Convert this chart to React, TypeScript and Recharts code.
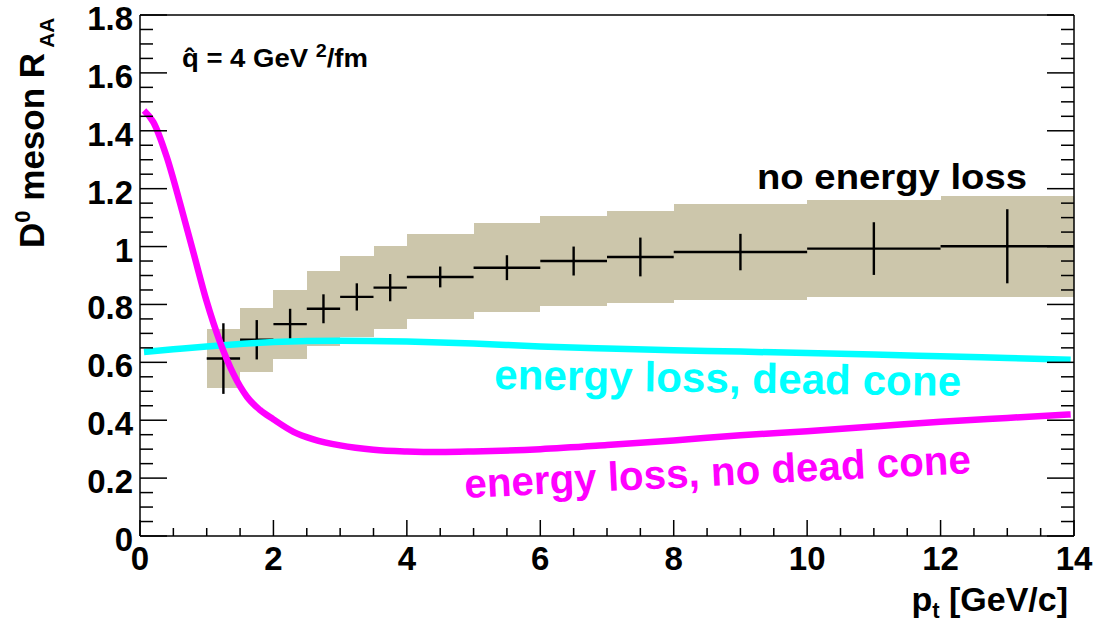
import React from 'react';
import { ComposedChart, Line, Scatter, ErrorBar, XAxis, YAxis, ReferenceArea } from 'recharts';

const W = 1098;
const H = 624;
const FONT = '"Liberation Sans", Arial, Helvetica, sans-serif';

// D0 RAA measurement, pt bins [GeV/c]
const binLow = [1, 1.5, 2, 2.5, 3, 3.5, 4, 5, 6, 7, 8, 10, 12];
const binHigh = [1.5, 2, 2.5, 3, 3.5, 4, 5, 6, 7, 8, 10, 12, 14];
const raa = [0.613, 0.678, 0.732, 0.785, 0.826, 0.858, 0.895, 0.927, 0.95, 0.964, 0.981, 0.993, 1.001];
const statErr = [0.122, 0.068, 0.053, 0.05, 0.047, 0.047, 0.036, 0.043, 0.05, 0.067, 0.063, 0.091, 0.128];
const sysErr = [0.101, 0.111, 0.119, 0.13, 0.14, 0.143, 0.147, 0.153, 0.157, 0.16, 0.165, 0.169, 0.174];

// energy loss, no dead cone (magenta)
const noDcPt = [0.06, 0.2, 0.4, 0.6, 0.8, 1.0, 1.2, 1.4, 1.6, 1.8, 2.0, 2.3, 2.6, 3.0, 3.5, 4.0, 4.5, 5.0, 6.0, 7.0, 8.0, 9.0, 10.0, 11.0, 12.0, 13.0, 13.95];
const noDcRaa = [1.47, 1.43, 1.31, 1.15, 0.98, 0.81, 0.67, 0.56, 0.482, 0.435, 0.403, 0.36, 0.334, 0.313, 0.298, 0.292, 0.29, 0.292, 0.3, 0.314, 0.33, 0.348, 0.362, 0.378, 0.395, 0.408, 0.42];

// energy loss, dead cone (cyan)
const dcPt = [0.06, 0.5, 1.0, 1.5, 2.0, 3.0, 4.0, 5.0, 6.0, 7.0, 8.0, 9.0, 10.0, 11.0, 12.0, 13.0, 13.95];
const dcRaa = [0.636, 0.645, 0.655, 0.663, 0.67, 0.675, 0.672, 0.665, 0.655, 0.648, 0.642, 0.637, 0.632, 0.627, 0.621, 0.615, 0.609];

const xMajor = [0, 2, 4, 6, 8, 10, 12, 14];
const yMajor = [0, 0.2, 0.4, 0.6, 0.8, 1, 1.2, 1.4, 1.6, 1.8];
const xTicks = Array.from({ length: 29 }, (_, i) => i * 0.5);
const yTicks = Array.from({ length: 37 }, (_, i) => +(i * 0.05).toFixed(2));

const points = binLow.map((lo, i) => ({
  x: (lo + binHigh[i]) / 2,
  y: raa[i],
  ex: (binHigh[i] - lo) / 2,
  ey: statErr[i],
}));
const noDcData = noDcPt.map((x, i) => ({ x, y: noDcRaa[i] }));
const dcData = dcPt.map((x, i) => ({ x, y: dcRaa[i] }));

const isX = (v: number) => xMajor.some((m) => Math.abs(m - v) < 1e-6);
const isY = (v: number) => yMajor.some((m) => Math.abs(m - v) < 1e-6);

const lbl = { fontFamily: FONT, fontWeight: 'bold' as const, fill: '#000' };

function BottomTick({ x, y, payload }: any) {
  const major = isX(payload.value);
  return (
    <g>
      <line x1={x} x2={x} y1={y} y2={y - (major ? 16 : 8)} stroke="#000" strokeWidth={1.5} />
      {major && (
        <text x={x} y={y + 34} textAnchor="middle" fontSize={33} {...lbl}>
          {payload.value}
        </text>
      )}
    </g>
  );
}

function TopTick({ x, y, payload }: any) {
  const major = isX(payload.value);
  return <line x1={x} x2={x} y1={y} y2={y + (major ? 16 : 8)} stroke="#000" strokeWidth={1.5} />;
}

function LeftTick({ x, y, payload }: any) {
  const major = isY(payload.value);
  return (
    <g>
      <line x1={x} x2={x + (major ? 27 : 13)} y1={y} y2={y} stroke="#000" strokeWidth={1.5} />
      {major && (
        <text x={x - 7} y={y + 15} textAnchor="end" fontSize={33} {...lbl}>
          {payload.value}
        </text>
      )}
    </g>
  );
}

function RightTick({ x, y, payload }: any) {
  const major = isY(payload.value);
  return <line x1={x} x2={x - (major ? 27 : 13)} y1={y} y2={y} stroke="#000" strokeWidth={1.5} />;
}

const frame = { stroke: '#000', strokeWidth: 1.5 };

export default function App() {
  return (
    <div style={{ position: 'absolute', left: 0, top: 0, width: W, height: H, background: '#fff' }}>
      <ComposedChart width={W} height={H} margin={{ top: 0, right: 0, bottom: 0, left: 0 }}>
        <XAxis
          xAxisId="b"
          dataKey="x"
          type="number"
          domain={[0, 14]}
          ticks={xTicks}
          interval={0}
          allowDataOverflow
          height={88}
          tickSize={0}
          tickMargin={0}
          tickLine={false}
          axisLine={frame}
          tick={<BottomTick />}
        />
        <XAxis
          xAxisId="t"
          orientation="top"
          type="number"
          domain={[0, 14]}
          ticks={xTicks}
          interval={0}
          allowDataOverflow
          height={15}
          tickSize={0}
          tickMargin={0}
          tickLine={false}
          axisLine={frame}
          tick={<TopTick />}
        />
        <YAxis
          yAxisId="l"
          type="number"
          domain={[0, 1.8]}
          ticks={yTicks}
          interval={0}
          allowDataOverflow
          width={140}
          tickSize={0}
          tickMargin={0}
          tickLine={false}
          axisLine={frame}
          tick={<LeftTick />}
        />
        <YAxis
          yAxisId="r"
          orientation="right"
          type="number"
          domain={[0, 1.8]}
          ticks={yTicks}
          interval={0}
          allowDataOverflow
          width={24}
          tickSize={0}
          tickMargin={0}
          tickLine={false}
          axisLine={frame}
          tick={<RightTick />}
        />
        {binLow.map((lo, i) => (
          <ReferenceArea
            key={i}
            xAxisId="b"
            yAxisId="l"
            x1={lo}
            x2={binHigh[i]}
            y1={raa[i] - sysErr[i]}
            y2={raa[i] + sysErr[i]}
            fill="#ccc6ab"
            fillOpacity={1}
            stroke="none"
            shapeRendering="crispEdges"
          />
        ))}
        <Scatter
          xAxisId="b"
          yAxisId="l"
          data={points}
          dataKey="y"
          isAnimationActive={false}
          shape={() => <g />}
        >
          <ErrorBar dataKey="ey" direction="y" width={0} stroke="#000" strokeWidth={2.4} isAnimationActive={false} />
          <ErrorBar dataKey="ex" direction="x" width={0} stroke="#000" strokeWidth={2.4} isAnimationActive={false} />
        </Scatter>
        <Line
          xAxisId="b"
          yAxisId="l"
          data={dcData}
          dataKey="y"
          type="monotone"
          stroke="#00ffff"
          strokeWidth={6.5}
          dot={false}
          isAnimationActive={false}
        />
        <Line
          xAxisId="b"
          yAxisId="l"
          data={noDcData}
          dataKey="y"
          type="monotone"
          stroke="#ff00ff"
          strokeWidth={6.5}
          dot={false}
          isAnimationActive={false}
        />
      </ComposedChart>

      <svg width={W} height={H} style={{ position: 'absolute', left: 0, top: 0, pointerEvents: 'none' }}>
        <g transform="translate(182 67) scale(1.1 1)">
          <text x={0} y={0} fontSize={25} {...lbl}>
            {'q\u0302 = 4 GeV '}
            <tspan fontSize={18} dy={-10}>2</tspan>
            <tspan dy={10}>/fm</tspan>
          </text>
        </g>
        <text x={757} y={189} fontSize={35} textLength={270} lengthAdjust="spacingAndGlyphs" {...lbl}>
          no energy loss
        </text>
        <text
          x={494}
          y={389}
          fontSize={42}
          textLength={467}
          lengthAdjust="spacingAndGlyphs"
          transform="rotate(0.85 494 389)"
          {...lbl}
          fill="#00ffff"
        >
          energy loss, dead cone
        </text>
        <text
          x={465}
          y={498}
          fontSize={41}
          textLength={507}
          lengthAdjust="spacingAndGlyphs"
          transform="rotate(-2.8 465 498)"
          {...lbl}
          fill="#ff00ff"
        >
          energy loss, no dead cone
        </text>
        <text x={1068} y={611} textAnchor="end" fontSize={34} {...lbl}>
          p<tspan fontSize={22} dy={7}>t</tspan>
          <tspan dy={-7}> [GeV/c]</tspan>
        </text>
        <text transform="rotate(-90)" x={-248} y={44} fontSize={35} {...lbl}>
          D<tspan fontSize={22} dy={-14}>0</tspan>
          <tspan dy={14}> meson R</tspan>
          <tspan fontSize={21} dy={10}> AA</tspan>
        </text>
      </svg>
    </div>
  );
}
